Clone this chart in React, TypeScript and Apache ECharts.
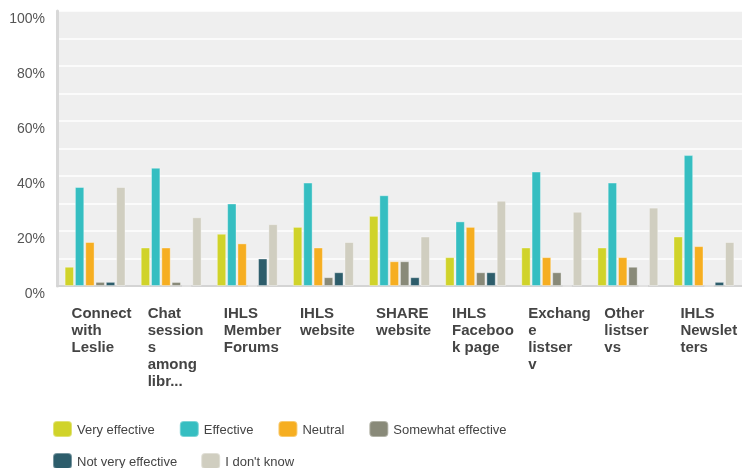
import React, { useEffect, useRef } from "react";
import * as echarts from "echarts";

const categories = [
  "Connect\nwith\nLeslie",
  "Chat\nsession\ns\namong\nlibr...",
  "IHLS\nMember\nForums",
  "IHLS\nwebsite",
  "SHARE\nwebsite",
  "IHLS\nFaceboo\nk page",
  "Exchang\ne\nlistser\nv",
  "Other\nlistser\nvs",
  "IHLS\nNewslet\nters",
];

const seriesNames = [
  "Very effective",
  "Effective",
  "Neutral",
  "Somewhat effective",
  "Not very effective",
  "I don't know",
];

const veryEffective = [7, 14, 19, 21.5, 25.5, 10.5, 14, 14, 18];
const effective = [36, 43, 30, 37.6, 33, 23.5, 41.6, 37.6, 47.6];
const neutral = [16, 14, 15.5, 14, 9, 21.5, 10.5, 10.5, 14.5];
const somewhatEffective = [1.5, 1.5, 0, 3.2, 9, 5, 5, 7, 0];
const notVeryEffective = [1.5, 0, 10, 5, 3.2, 5, 0, 0, 1.5];
const dontKnow = [36, 25, 22.5, 16, 18, 31, 27, 28.5, 16];

const yTicks = [0, 20, 40, 60, 80, 100];

const colors = ["#D0D32A", "#35BEC1", "#F6AE21", "#898A79", "#2D5D6B", "#D0CEC0"];

const FONT = "'Liberation Sans', Arial, sans-serif";

export default function App() {
  const ref = useRef<HTMLDivElement>(null);
  useEffect(() => {
    if (!ref.current) return;
    const chart = echarts.init(ref.current, null, { renderer: "svg" });
    const allData = [veryEffective, effective, neutral, somewhatEffective, notVeryEffective, dontKnow];
    chart.setOption({
      animation: false,
      textStyle: { fontFamily: FONT },
      grid: {
        left: 57,
        right: -2,
        top: 11,
        bottom: 182,
        show: true,
        backgroundColor: "#EFEFEF",
        borderWidth: 0,
      },
      legend: [
        {
          data: seriesNames.slice(0, 4),
          left: 52,
          top: 420,
          padding: 0,
          itemGap: 24,
          itemWidth: 19,
          itemHeight: 16,
          icon: "roundRect",
          textStyle: { fontSize: 13, color: "#444", fontFamily: FONT },
        },
        {
          data: seriesNames.slice(4),
          left: 52,
          top: 452,
          padding: 0,
          itemGap: 23,
          itemWidth: 19,
          itemHeight: 16,
          icon: "roundRect",
          textStyle: { fontSize: 13, color: "#444", fontFamily: FONT },
        },
      ],
      xAxis: {
        type: "category",
        data: categories,
        axisTick: { show: false },
        axisLine: { show: true, lineStyle: { color: "#D4D4D4", width: 2 } },
        axisLabel: {
          interval: 0,
          margin: 18,
          align: "center",
          width: 47,
          overflow: "none",
          formatter: (v: string) =>
            v
              .split("\n")
              .map((l) => `{a|${l}}`)
              .join("\n"),
          rich: {
            a: {
              align: "left",
              fontSize: 15,
              fontWeight: "bold",
              lineHeight: 17,
              color: "#444",
              fontFamily: FONT,
            },
          },
        },
      },
      yAxis: {
        type: "value",
        min: 0,
        max: 100,
        interval: 10,
        axisLine: { show: true, lineStyle: { color: "#D8D8D8", width: 3 } },
        axisTick: { show: false },
        splitLine: { show: true, lineStyle: { color: "#FFFFFF", width: 1.5 } },
        axisLabel: {
          margin: 12,
          fontSize: 14,
          color: "#555",
          verticalAlign: "top",
          lineHeight: 14,
          fontFamily: FONT,
          formatter: (v: number) => (yTicks.indexOf(v) >= 0 ? v + "%" : ""),
        },
      },
      series: seriesNames.map((name, i) => ({
        name,
        type: "bar",
        data: allData[i],
        barCategoryGap: "20%",
        barGap: "10%",
        itemStyle: {
          color: colors[i],
          borderColor: "rgba(255,255,255,0.35)",
          borderWidth: 1,
        },
      })),
    });
    return () => chart.dispose();
  }, []);
  return (
    <div
      ref={ref}
      style={{ position: "fixed", left: 0, top: 0, width: 742, height: 468, overflow: "hidden" }}
    />
  );
}
